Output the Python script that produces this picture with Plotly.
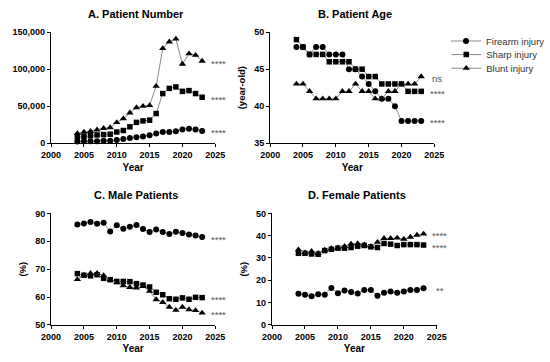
import plotly.graph_objects as go

years = list(range(2004, 2024))
series_names = ["Firearm injury", "Sharp injury", "Blunt injury"]
symbols = ["circle", "square", "triangle-up"]

# A. Patient Number
num_firearm = [2000, 2500, 2500, 2500, 3000, 3000, 4000, 5500, 7000, 8000, 9000, 10500, 13000, 15000, 15000, 16000, 18500, 19500, 18500, 16500]
num_sharp = [8000, 9000, 10000, 11000, 11500, 12000, 15000, 17000, 22000, 28000, 30000, 31000, 40000, 67000, 74000, 76000, 70000, 71000, 67000, 62000]
num_blunt = [13000, 15000, 16000, 18000, 20000, 21000, 28000, 33000, 41000, 48000, 50000, 51000, 77000, 128000, 137000, 141000, 107000, 121000, 119000, 111000]
sig_num = ["****", "****", "****"]

# B. Patient Age
age_firearm = [48, 48, 47, 48, 48, 47, 47, 47, 45, 45, 44, 43, 42, 41, 41, 40, 38, 38, 38, 38]
age_sharp = [49, 48, 47, 47, 47, 46, 46, 46, 46, 45, 45, 44, 44, 43, 43, 43, 43, 42, 42, 42]
age_blunt = [43, 43, 42, 41, 41, 41, 41, 42, 42, 43, 42, 42, 41, 41, 42, 42, 43, 43, 43, 44]
sig_age = ["****", "****", "ns"]

# C. Male Patients (%)
male_firearm = [86.0, 86.4, 86.9, 86.3, 86.6, 83.5, 85.7, 84.5, 85.2, 85.8, 84.4, 83.3, 84.2, 83.3, 82.6, 83.4, 83.0, 82.4, 82.1, 81.5]
male_sharp = [68.4, 67.8, 67.6, 68.0, 66.7, 66.2, 65.6, 65.6, 65.5, 64.8, 64.3, 63.6, 61.7, 60.8, 59.4, 59.2, 59.7, 59.2, 59.9, 59.8]
male_blunt = [66.3, 67.9, 68.5, 68.5, 67.7, 66.2, 65.2, 64.1, 63.5, 63.3, 63.8, 62.1, 59.1, 58.1, 56.4, 55.3, 56.4, 55.5, 55.2, 54.3]
sig_male = ["****", "****", "****"]

# D. Female Patients (%)
female_firearm = [14.0, 13.5, 12.9, 13.8, 13.5, 16.6, 14.2, 15.4, 14.7, 14.1, 15.7, 15.6, 13.1, 14.4, 15.0, 14.4, 15.0, 15.7, 15.7, 16.4]
female_sharp = [32.1, 32.1, 31.8, 31.7, 33.3, 33.9, 34.4, 34.4, 34.7, 35.3, 35.6, 35.0, 34.7, 36.5, 36.2, 35.6, 36.0, 36.0, 36.0, 35.8]
female_blunt = [33.7, 32.4, 33.0, 32.1, 33.6, 34.2, 34.6, 35.3, 36.3, 36.5, 35.9, 35.3, 37.1, 38.8, 38.8, 39.0, 38.5, 39.4, 40.3, 40.8]
sig_female = ["**", "****", "****"]

panels = [
    ("A. Patient Number", [num_firearm, num_sharp, num_blunt], sig_num, [0, 150000], 50000, "", ","),
    ("B. Patient Age", [age_firearm, age_sharp, age_blunt], sig_age, [35, 50], 5, "(year-old)", ""),
    ("C. Male Patients", [male_firearm, male_sharp, male_blunt], sig_male, [50, 90], 10, "(%)", ""),
    ("D. Female Patients", [female_firearm, female_sharp, female_blunt], sig_female, [0, 50], 10, "(%)", ""),
]

W, H = 550, 362
# pixel boxes: (x0, x1, ytop, ybottom)
boxes = [(42, 214, 28, 142), (271.5, 443.5, 28, 142), (42, 214, 214.3, 329), (273.5, 446, 214.3, 329)]

FONT = "Liberation Sans, Arial, sans-serif"
marker_sizes = [6, 5.5, 6.5]
legend_ids = ["legend", "legend2", "legend3"]
legend_rows = [37, 51, 65]

fig = go.Figure()
layout = dict(width=W, height=H, margin=dict(l=0, r=0, t=0, b=0),
              paper_bgcolor="white", plot_bgcolor="white",
              font=dict(family=FONT, color="black"), annotations=[])

for i, (title, data, sigs, yr, dt, ytitle, fmt) in enumerate(panels):
    n = "" if i == 0 else str(i + 1)
    x0, x1, yt, yb = boxes[i]
    for j in range(3):
        fig.add_trace(go.Scatter(
            x=years, y=data[j], mode="lines+markers", name=series_names[j],
            legend=legend_ids[j], showlegend=(i == 0),
            line=dict(color="#8a8a8a", width=1),
            marker=dict(symbol=symbols[j], size=marker_sizes[j], color="black"),
            xaxis="x" + n, yaxis="y" + n, cliponaxis=False))
        layout["annotations"].append(dict(
            x=1.018, y=data[j][-1], xref="x" + n + " domain", yref="y" + n, text=sigs[j],
            showarrow=False, xanchor="center", yanchor="middle", yshift=-2,
            font=dict(size=9.5, color="#555555", family=FONT)))
    layout["xaxis" + n] = dict(
        domain=[x0 / W, x1 / W], range=[2000, 2025], dtick=5, tick0=2000,
        anchor="y" + n, showline=True, linecolor="black", linewidth=1.3,
        ticks="outside", ticklen=3, tickwidth=1.2, tickcolor="black",
        showgrid=False, zeroline=False,
        tickfont=dict(size=9, weight="bold"),
        title=dict(text="<b>Year</b>", font=dict(size=10), standoff=4))
    layout["yaxis" + n] = dict(
        domain=[1 - yb / H, 1 - yt / H], range=yr, dtick=dt, tick0=yr[0],
        anchor="x" + n, showline=True, linecolor="black", linewidth=1.3,
        ticks="outside", ticklen=3, tickwidth=1.2, tickcolor="black",
        showgrid=False, zeroline=False, tickformat=fmt,
        tickfont=dict(size=9, weight="bold"),
        title=dict(text=("<b>" + ytitle + "</b>") if ytitle else "", font=dict(size=9.5), standoff=6))
    layout["annotations"].append(dict(
        x=((x0 + x1) / 2 + 3) / W, y=1 - (yt - 19) / H, xref="paper", yref="paper",
        text="<b>" + title + "</b>", showarrow=False, xanchor="center", yanchor="middle",
        font=dict(size=11, family=FONT)))

for j, lid in enumerate(legend_ids):
    layout[lid] = dict(x=456 / W, y=1 - legend_rows[j] / H, xanchor="left", yanchor="middle",
                       font=dict(size=9.5, color="#333333", family=FONT),
                       bgcolor="rgba(0,0,0,0)", itemwidth=30)
fig.update_layout(**layout)
fig.write_html("out.html", config={"displayModeBar": False},
               post_script="document.body.style.margin='0';")
